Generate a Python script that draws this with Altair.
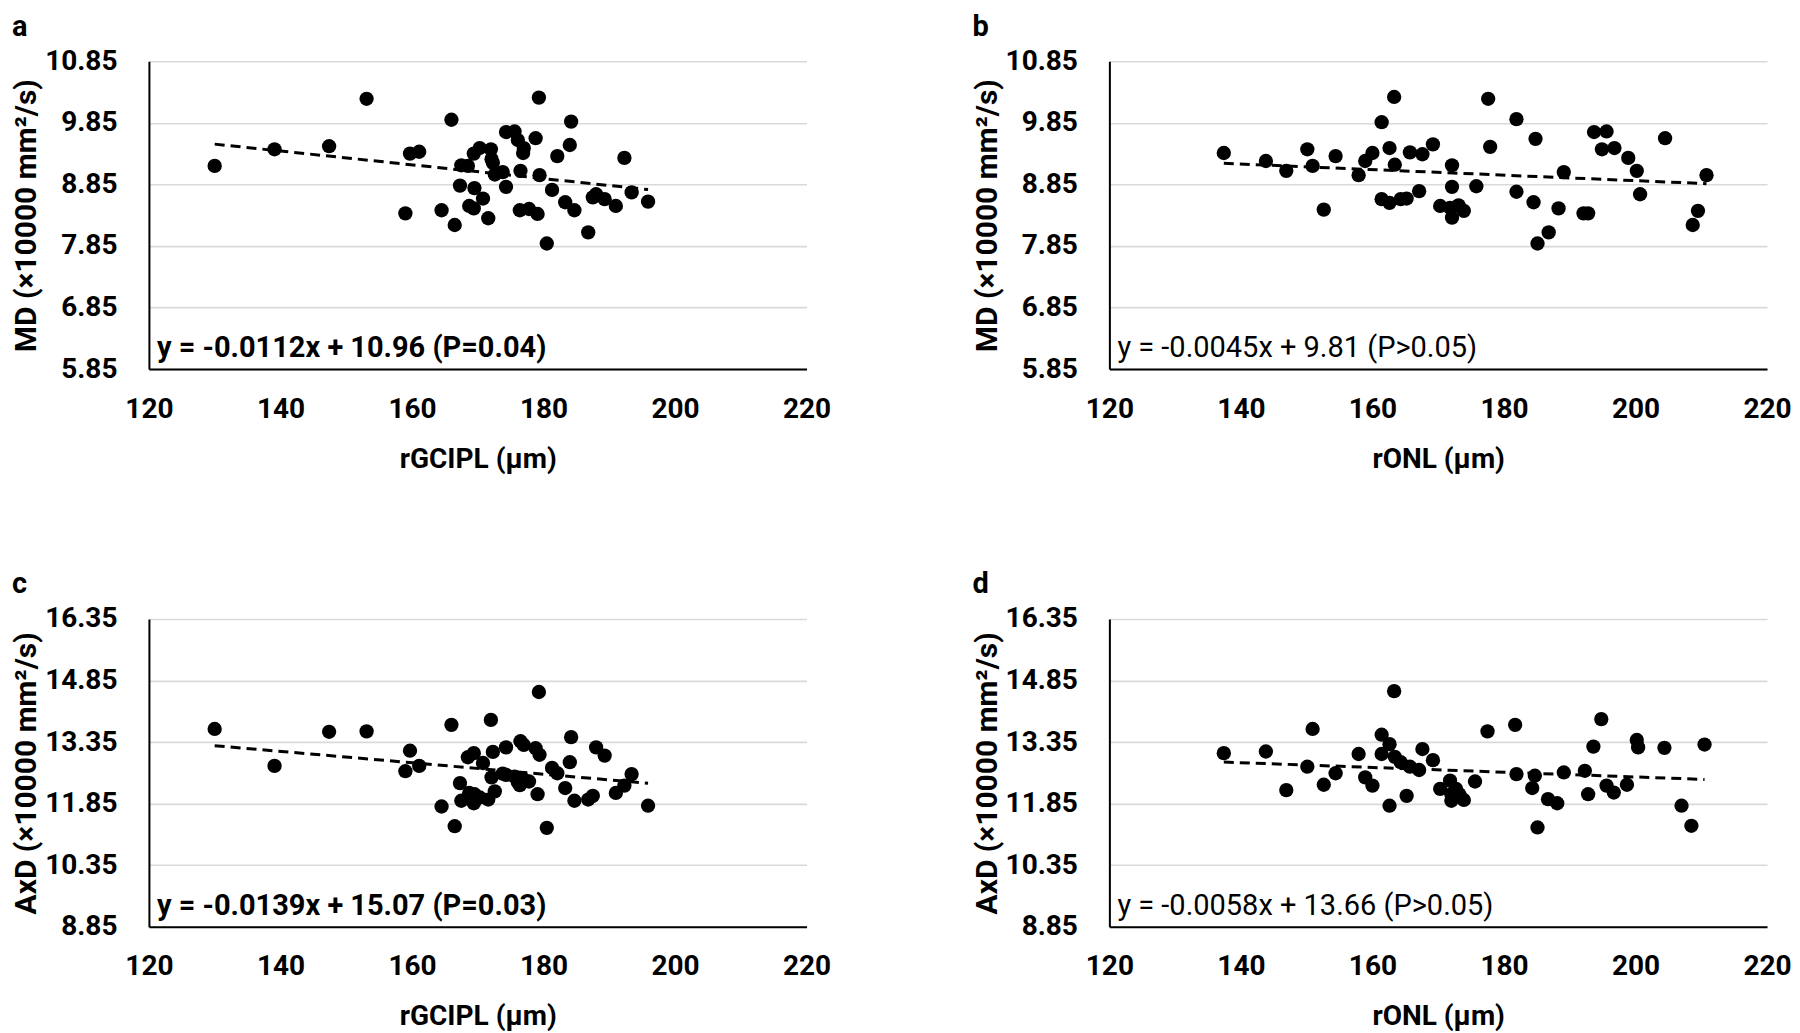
import altair as alt
import pandas as pd

# ---------------- data ----------------
# panels a and c share the rGCIPL values (same subjects)
rgcipl = [130.0, 139.1, 147.4, 153.1, 159.0, 159.7, 161.1, 164.5, 166.0, 166.5,
          167.3, 167.5, 168.5, 168.7, 169.4, 169.5, 169.4, 170.3, 170.8, 171.6,
          172.0, 172.1, 172.3, 172.6, 173.8, 174.3, 174.3, 175.6, 176.1, 176.5,
          176.4, 176.9, 177.0, 177.8, 178.8, 179.1, 179.3, 179.4, 180.5, 181.3,
          182.1, 183.3, 184.0, 184.2, 184.7, 186.8, 187.5, 188.0, 189.3, 191.0,
          192.3, 193.4, 195.9]
md_a = [9.15, 9.42, 9.47, 10.24, 8.38, 9.35, 9.38, 8.43, 9.90, 8.19,
        8.83, 9.16, 9.15, 8.50, 9.35, 8.79, 8.46, 9.44, 8.62, 8.30,
        9.42, 9.26, 9.20, 9.01, 9.05, 8.81, 9.70, 9.71, 9.57, 9.07,
        8.43, 9.36, 9.44, 8.45, 9.60, 8.37, 10.26, 9.00, 7.89, 8.76,
        9.31, 8.56, 9.49, 9.87, 8.43, 8.07, 8.64, 8.69, 8.61, 8.50,
        9.28, 8.72, 8.57]
axd_c = [13.67, 12.77, 13.60, 13.61, 12.64, 13.14, 12.77, 11.78, 13.77, 11.30,
         12.35, 11.92, 12.98, 12.11, 13.08, 12.08, 11.86, 12.00, 12.84, 11.95,
         13.89, 12.49, 13.11, 12.15, 12.58, 13.22, 12.55, 12.51, 12.37, 13.37,
         12.30, 12.45, 13.28, 12.39, 13.20, 12.08, 14.57, 13.04, 11.26, 12.72,
         12.59, 12.23, 12.86, 13.47, 11.92, 11.95, 12.04, 13.22, 13.02, 12.11,
         12.29, 12.57, 11.80]

ronl_b = [137.4, 143.8, 146.9, 150.1, 150.9, 152.6, 154.4, 157.9, 158.9, 160.0,
          161.4, 161.4, 162.6, 162.6, 163.3, 163.4, 164.3, 165.2, 165.7, 167.1,
          167.6, 169.2, 170.3, 171.8, 172.1, 172.1, 172.1, 173.1, 173.9, 175.8,
          177.6, 177.9, 181.9, 181.9, 184.5, 184.8, 185.1, 186.8, 188.3, 189.1,
          192.1, 192.8, 193.7, 194.9, 195.6, 196.8, 198.9, 200.2, 200.7, 204.5,
          208.7, 209.5, 210.8]
md_b = [9.36, 9.23, 9.07, 9.42, 9.15, 8.44, 9.31, 9.00, 9.23, 9.36,
        9.86, 8.61, 9.44, 8.55, 10.27, 9.17, 8.61, 8.62, 9.37, 8.74,
        9.34, 9.50, 8.50, 8.47, 8.81, 9.16, 8.31, 8.51, 8.42, 8.82,
        10.24, 9.46, 9.91, 8.73, 8.56, 9.59, 7.89, 8.07, 8.46, 9.05,
        8.38, 8.38, 9.70, 9.42, 9.71, 9.44, 9.28, 9.07, 8.69, 9.60,
        8.19, 8.42, 9.00]

ronl_d = [137.4, 143.8, 146.9, 150.1, 150.9, 152.6, 154.4, 157.9, 158.9, 160.0,
          161.4, 161.4, 162.6, 162.6, 163.3, 163.4, 164.3, 165.2, 165.7, 167.1,
          167.6, 169.2, 170.3, 171.8, 172.0, 172.0, 172.7, 173.2, 173.9, 175.6,
          177.5, 181.7, 181.9, 184.3, 184.7, 185.1, 186.7, 188.1, 189.1, 192.3,
          192.8, 193.6, 194.8, 195.6, 196.7, 198.7, 200.2, 200.4, 204.4, 207.0,
          208.5, 210.5]
axd_d = [13.08, 13.12, 12.18, 12.75, 13.67, 12.31, 12.59, 13.06, 12.49, 12.29,
         13.53, 13.06, 13.30, 11.80, 14.59, 12.99, 12.86, 12.04, 12.75, 12.67,
         13.18, 12.91, 12.21, 12.41, 12.08, 11.92, 12.21, 12.08, 11.94, 12.39,
         13.61, 13.77, 12.57, 12.23, 12.53, 11.27, 11.96, 11.86, 12.61, 12.65,
         12.08, 13.24, 13.91, 12.29, 12.12, 12.31, 13.40, 13.22, 13.21, 11.80,
         11.31, 13.29]

# regression lines as printed on the chart
eq_text = ["y = -0.0112x + 10.96 (P=0.04)", "y = -0.0045x + 9.81 (P>0.05)",
           "y = -0.0139x + 15.07 (P=0.03)", "y = -0.0058x + 13.66 (P>0.05)"]
slopes = [-0.0112, -0.0045, -0.0139, -0.0058]
intercepts = [10.96, 9.81, 15.07, 13.66]

x_ticks = [120, 140, 160, 180, 200, 220]
md_ticks = [5.85, 6.85, 7.85, 8.85, 9.85, 10.85]
axd_ticks = [8.85, 10.35, 11.85, 13.35, 14.85, 16.35]

FONT = "Roboto"
W, H = 658, 308


def panel(xs, ys, xtitle, ytitle, yticks, eq, slope, intercept, bold, letter):
    pts = pd.DataFrame({"x": xs, "y": ys})
    xenc = alt.X("x:Q", scale=alt.Scale(domain=[x_ticks[0], x_ticks[-1]], nice=False, zero=False),
                 axis=alt.Axis(values=x_ticks, title=xtitle, grid=False, ticks=False, tickSize=0,
                               domainColor="black", domainWidth=2, labelFlush=False,
                               labelOverlap=False, labelFont=FONT, labelFontSize=28,
                               labelFontWeight="bold", labelColor="black", labelPadding=26,
                               titleFont=FONT, titleFontSize=28, titleFontWeight="bold",
                               titleColor="black", titleY=90, titleBaseline="middle"))
    yenc = alt.Y("y:Q", scale=alt.Scale(domain=[yticks[0], yticks[-1]], nice=False, zero=False),
                 axis=alt.Axis(values=yticks, format=".2f", title=ytitle, grid=True,
                               gridColor="#d9d9d9", gridWidth=1.6, ticks=False, tickSize=0,
                               domainColor="black", domainWidth=2, labelOverlap=False,
                               labelFont=FONT, labelFontSize=28, labelFontWeight="bold",
                               labelColor="black", labelPadding=32,
                               titleFont=FONT, titleFontSize=30, titleFontWeight="bold",
                               titleColor="black", titleX=-122, titleY=H / 2,
                               titleAngle=270, titleBaseline="middle"))
    points = alt.Chart(pts).mark_circle(size=205, color="black", opacity=1).encode(x=xenc, y=yenc)
    line_df = pd.DataFrame({"x": [min(xs), max(xs)]})
    line = (alt.Chart(line_df)
            .transform_calculate(y=f"{slope} * datum.x + {intercept}")
            .mark_line(color="black", strokeDash=[10, 6], strokeWidth=3)
            .encode(x=xenc, y=yenc))
    ann = (alt.Chart(pd.DataFrame({"t": [eq]}))
           .mark_text(align="left", baseline="alphabetic", font=FONT, fontSize=29,
                      fontWeight="bold" if bold else "normal", color="black")
           .encode(x=alt.value(8), y=alt.value(296), text="t:N"))
    let = (alt.Chart(pd.DataFrame({"t": [letter]}))
           .mark_text(align="left", baseline="middle", font=FONT, fontSize=29,
                      fontWeight="bold", color="black")
           .encode(x=alt.value(-137), y=alt.value(-34.5), text="t:N"))
    return alt.layer(points, line, ann, let).properties(width=W, height=H)


md_title = "MD (×10000 mm²/s)"
axd_title = "AxD (×10000 mm²/s)"

pa = panel(rgcipl, md_a, "rGCIPL (µm)", md_title, md_ticks, eq_text[0], slopes[0], intercepts[0], True, "a")
pb = panel(ronl_b, md_b, "rONL (µm)", md_title, md_ticks, eq_text[1], slopes[1], intercepts[1], False, "b")
pc = panel(rgcipl, axd_c, "rGCIPL (µm)", axd_title, axd_ticks, eq_text[2], slopes[2], intercepts[2], True, "c")
pd_ = panel(ronl_d, axd_d, "rONL (µm)", axd_title, axd_ticks, eq_text[3], slopes[3], intercepts[3], False, "d")

row1 = alt.hconcat(pa, pb, spacing=141)
row2 = alt.hconcat(pc, pd_, spacing=141)
chart = (alt.vconcat(row1, row2, spacing=97)
         .properties(padding={"left": 4, "top": 4, "right": 0, "bottom": 0}, background="white")
         .configure_view(stroke=None))

chart.save("out.html", embed_options={"renderer": "svg", "actions": False})
